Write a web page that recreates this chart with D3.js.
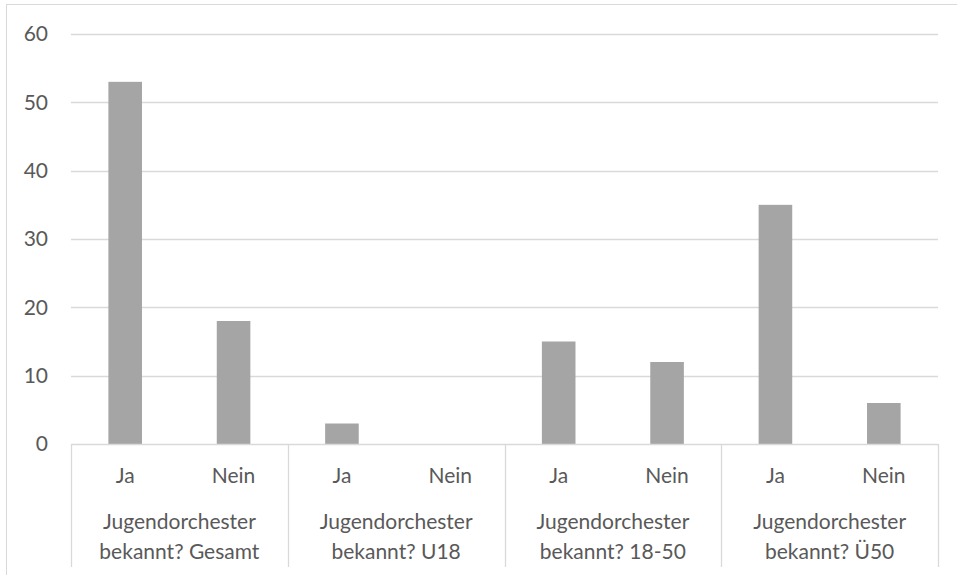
<!DOCTYPE html>
<html>
<head>
<meta charset="utf-8">
<script src="https://cdn.jsdelivr.net/npm/d3@7"></script>
<style>
  body { margin: 0; background: #fff; }
  text { font-family: Lato, "Open Sans", sans-serif; fill: #595959; }
</style>
</head>
<body>
<script>
// data
const groups = ["Jugendorchester bekannt? Gesamt", "Jugendorchester bekannt? U18",
                "Jugendorchester bekannt? 18-50", "Jugendorchester bekannt? Ü50"]
const answers = ["Ja", "Nein"]
const values = [53, 18, 3, 0, 15, 12, 35, 6]
const yTicks = [0, 10, 20, 30, 40, 50, 60]

const width = 957, height = 575
const margin = {top: 34, right: 19, bottom: 131, left: 71}
const gWidth = width - margin.left - margin.right
const gHeight = height - margin.top - margin.bottom
const fontSize = "21px"

const svg = d3.select("body").append("svg")
  .attr("width", width)
  .attr("height", height)

// chart border (runs off the picture at right and bottom)
svg.append("rect")
  .attr("x", 6.5).attr("y", 4.5)
  .attr("width", 970).attr("height", 600)
  .attr("fill", "none")
  .attr("stroke", "#d9d9d9")

const g = svg.append("g")
  .attr("transform", "translate(" + margin.left + "," + margin.top + ")")

const y = d3.scaleLinear().domain([0, 60]).range([gHeight, 0])

const x0 = d3.scaleBand().domain(groups).range([0, gWidth])
const x1 = d3.scaleBand().domain(answers).range([0, x0.bandwidth()])
  .paddingInner(0.69).paddingOuter(0.345)

// gridlines
g.append("g").selectAll("line")
  .data(yTicks.filter(d => d > 0))
  .enter().append("line")
  .attr("x1", 0).attr("x2", gWidth)
  .attr("y1", d => Math.round(y(d)) + 0.5)
  .attr("y2", d => Math.round(y(d)) + 0.5)
  .attr("stroke", "#d9d9d9")
  .attr("stroke-width", 1.3)

// y labels
g.append("g").selectAll("text")
  .data(yTicks)
  .enter().append("text")
  .attr("x", -23)
  .attr("y", d => y(d))
  .attr("dy", "0.35em")
  .attr("text-anchor", "end")
  .style("font-size", fontSize)
  .text(d => d)

// bars
const rows = []
groups.forEach((grp, i) => answers.forEach((a, j) => {
  rows.push({group: grp, answer: a, value: values[i * answers.length + j]})
}))

g.append("g").selectAll("rect")
  .data(rows)
  .enter().append("rect")
  .attr("x", d => x0(d.group) + x1(d.answer))
  .attr("y", d => y(d.value))
  .attr("width", x1.bandwidth())
  .attr("height", d => gHeight - y(d.value))
  .attr("fill", "#a5a5a5")

// category axis
const axis = g.append("g").attr("transform", "translate(0," + gHeight + ")")
axis.append("line")
  .attr("x1", 0).attr("x2", gWidth)
  .attr("y1", 0.5).attr("y2", 0.5)
  .attr("stroke", "#d9d9d9").attr("stroke-width", 1.3)

const seps = groups.map(grp => x0(grp)).concat([gWidth])
axis.selectAll("line.sep")
  .data(seps)
  .enter().append("line")
  .attr("class", "sep")
  .attr("x1", d => Math.round(d) + 0.5).attr("x2", d => Math.round(d) + 0.5)
  .attr("y1", 0).attr("y2", 123)
  .attr("stroke", "#d9d9d9").attr("stroke-width", 1.3)

axis.selectAll("text.ans")
  .data(rows)
  .enter().append("text")
  .attr("class", "ans")
  .attr("x", d => x0(d.group) + x1(d.answer) + x1.bandwidth() / 2)
  .attr("y", 32)
  .attr("dy", "0.35em")
  .attr("text-anchor", "middle")
  .style("font-size", fontSize)
  .text(d => d.answer)

const grpText = axis.selectAll("text.grp")
  .data(groups)
  .enter().append("text")
  .attr("class", "grp")
  .attr("text-anchor", "middle")
  .style("font-size", fontSize)

grpText.append("tspan")
  .attr("x", d => x0(d) + x0.bandwidth() / 2)
  .attr("y", 78).attr("dy", "0.35em")
  .text(d => d.split(" ")[0])
grpText.append("tspan")
  .attr("x", d => x0(d) + x0.bandwidth() / 2)
  .attr("y", 108).attr("dy", "0.35em")
  .text(d => d.split(" ").slice(1).join(" "))
</script>
</body>
</html>
